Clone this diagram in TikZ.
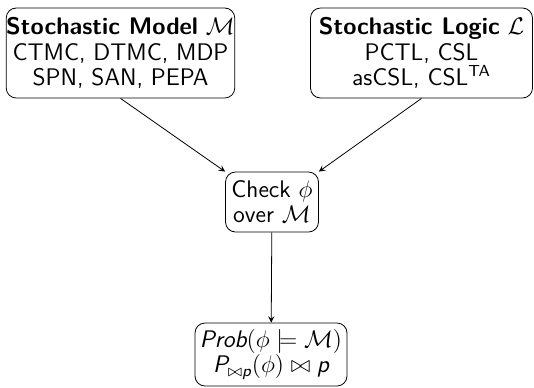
\documentclass[tikz,border=0pt]{standalone}
\usepackage{amsmath,amssymb}
\renewcommand{\familydefault}{\sfdefault}
\begin{document}
\begin{tikzpicture}[x=0.5pt,y=-0.5pt,
  box/.style={draw,rounded corners=5pt,align=center,inner sep=0pt,font=\fontsize{12}{12.6}\selectfont},
  arr/.style={-stealth,thin}]
\useasboundingbox (0,0) rectangle (534,387);
\node[box,minimum width=112.5pt,minimum height=45pt] (M) at (120.5,53)
  {\textbf{Stochastic Model} $\mathcal{M}$\\CTMC, DTMC, MDP\\SPN, SAN, PEPA};
\node[box,minimum width=111pt,minimum height=45pt] (L) at (421.5,53)
  {\textbf{Stochastic Logic} $\mathcal{L}$\\PCTL, CSL\\asCSL, CSL$^{\text{TA}}$};
\node[box,minimum width=46.5pt,minimum height=30pt] (C) at (272,202)
  {Check $\phi$\\over $\mathcal{M}$};
\node[box,minimum width=76pt,minimum height=31.5pt] (R) at (271,354.5)
  {$\textit{Prob}(\phi\models\mathcal{M})$\\$\textit{P}_{\bowtie\textit{p}}(\phi)\bowtie\textit{p}$};
\draw[arr] (M.south) -- (C.north west);
\draw[arr] (L.south) -- (C.north east);
\draw[arr] (C) -- (R);
\end{tikzpicture}
\end{document}
